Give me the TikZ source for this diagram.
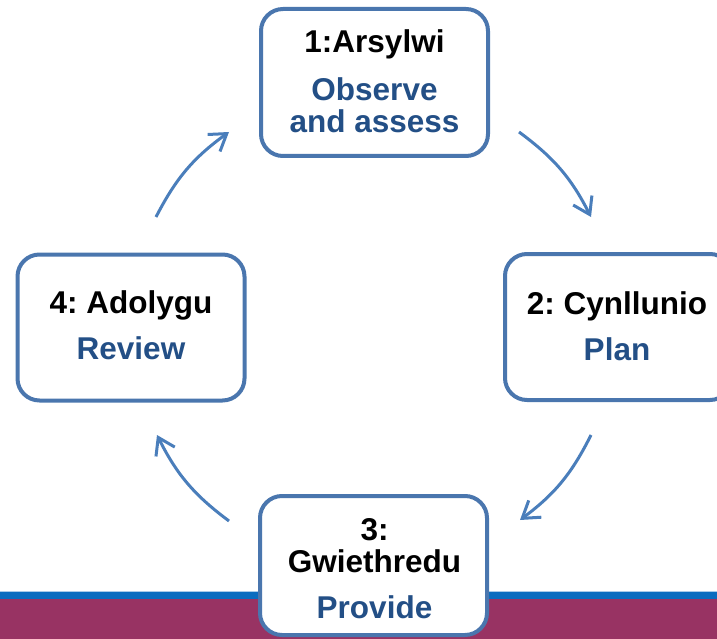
\documentclass[tikz,border=0pt]{standalone}
\usepackage{fontspec}
\setmainfont{Liberation Sans}
\usetikzlibrary{arrows.meta}
\definecolor{boxblue}{HTML}{4A76AE}
\definecolor{arrowblue}{HTML}{4A7EBB}
\definecolor{txtblue}{HTML}{234F86}
\definecolor{stripe}{HTML}{0A6CBF}
\definecolor{plum}{HTML}{983363}
\frenchspacing
\begin{document}
\begin{tikzpicture}[x=1pt,y=-1pt,
  box/.style={draw=boxblue, line width=4pt, fill=white, rounded corners=22pt,
    minimum width=227pt, minimum height=146pt, inner sep=0pt, outer sep=0pt},
  ttl/.style={font=\fontsize{31.5}{36}\selectfont\bfseries, anchor=base, inner sep=0pt},
  sub/.style={ttl, text=txtblue},
  cyc/.style={draw=arrowblue, line width=3pt, -{Straight Barb[length=16pt,width=21pt]}, bend left=13.4}]
\useasboundingbox (0,0) rectangle (717,639);
% bottom band
\fill[plum] (0,599) rectangle (717,639);
\fill[stripe] (0,592) rectangle (717,599);
\fill[stripe!35] (0,591) rectangle (717,592);
% boxes
\node[box, minimum height=147pt] (b1) at (374.5,82.5) {};
\node[box] (b2) at (618.5,327) {};
\node[box] (b4) at (131,327.5) {};
\node[box, minimum height=139pt] (b3) at (373.5,565.5) {};
% texts
\node[ttl] (t1) at (374.5,53) {1:Arsylwi};
\node[sub] (s1a) at (374.5,101) {Observe};
\node[sub] (s1b) at (374.5,133) {and assess};
\node[ttl] (t2) at (617,314) {2: Cynllunio};
\node[sub] (s2) at (617,360) {Plan};
\node[ttl] (t4) at (131,313) {4: Adolygu};
\node[sub] (s4) at (131,359) {Review};
\node[ttl] (t3a) at (374.5,540) {3:};
\node[ttl] (t3b) at (374.5,572) {Gwiethredu};
\node[sub] (s3) at (374.5,618) {Provide};
% arrow end points
\coordinate (a4s) at (156,217); \coordinate (a4e) at (229,132);
\coordinate (a1s) at (519,132); \coordinate (a1e) at (591,217);
\coordinate (a2s) at (591,435); \coordinate (a2e) at (520,520);
\coordinate (a3s) at (229,521); \coordinate (a3e) at (157,435);
\draw[cyc] (a4s) to (a4e);
\draw[cyc] (a1s) to (a1e);
\draw[cyc] (a2s) to (a2e);
\draw[cyc] (a3s) to (a3e);
\end{tikzpicture}
\end{document}
